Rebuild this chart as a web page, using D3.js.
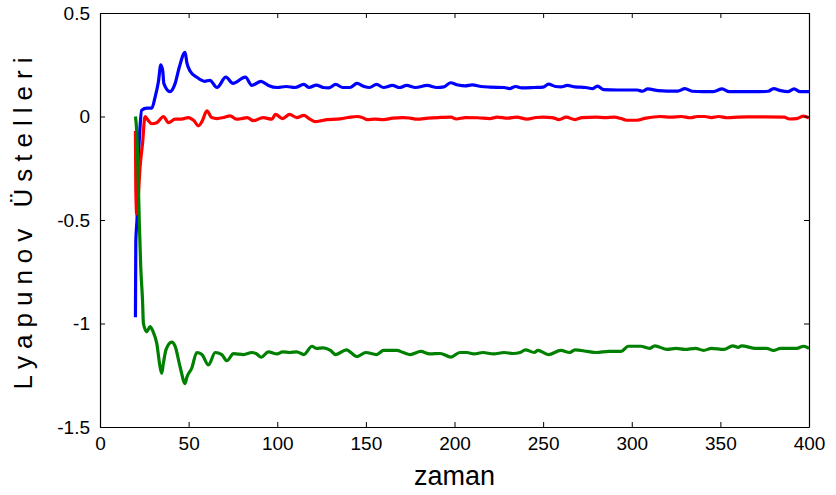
<!DOCTYPE html>
<html>
<head>
<meta charset="utf-8">
<script src="https://cdn.jsdelivr.net/npm/d3@7"></script>
<style>
  html, body { margin: 0; padding: 0; background: #fff; }
  svg { display: block; }
  text { font-family: "Liberation Sans", Arial, sans-serif; fill: #000; }
</style>
</head>
<body>
<svg id="chart" width="836" height="495"></svg>
<script>
// Lyapunov exponent estimates over time: [time, value]
const blueSeries = [
  [20,-0.97],[20.2,-0.61],[21,-0.47],[21.6,-0.23],[22.6,-0.05],[23.5,0.03],[26.4,0.04],[29.2,0.04],
  [31,0.09],[33,0.17],[34.3,0.25],[35.4,0.22],[36,0.16],[39.5,0.12],[42.4,0.16],[44.8,0.24],
  [48,0.31],[49,0.26],[50.8,0.22],[54.6,0.19],[59,0.17],[62,0.175],[66,0.14],[71,0.19],
  [75,0.16],[82,0.19],[85.7,0.15],[90.8,0.17],[95,0.15],[100,0.14],[105,0.145],[110,0.14],
  [115,0.155],[118,0.14],[122,0.152],[126,0.14],[129,0.138],[133,0.155],[137,0.14],[141,0.14],
  [145,0.16],[149,0.145],[152,0.14],[156,0.155],[160,0.14],[165,0.15],[169,0.14],[173,0.15],
  [178,0.14],[184.6,0.15],[190,0.14],[194,0.143],[197.7,0.163],[202,0.152],[206,0.148],[210,0.153],
  [215,0.145],[220,0.142],[228,0.14],[231,0.135],[234.5,0.145],[238,0.138],[245,0.14],[250,0.142],
  [253,0.156],[257,0.145],[260,0.143],[263.6,0.15],[268,0.143],[274,0.14],[278,0.135],[280.6,0.147],
  [284,0.13],[292,0.128],[303,0.128],[306,0.122],[309,0.133],[315,0.125],[320,0.123],[326,0.123],
  [330,0.135],[334,0.122],[340,0.12],[346,0.12],[351,0.133],[355,0.12],[362,0.12],[370,0.12],
  [377,0.122],[380,0.135],[384,0.125],[388,0.12],[391.6,0.133],[395,0.12],[400,0.12]
];

const redSeries = [
  [20,-0.07],[20.2,-0.34],[20.7,-0.47],[21.5,-0.4],[22.6,-0.245],[24,-0.13],[25.4,0],[27.3,-0.02],
  [29.2,-0.035],[32,-0.03],[35.8,0],[38.6,-0.03],[42.4,-0.013],[46,-0.013],[49.9,-0.005],[53,-0.02],
  [55.5,-0.045],[57.5,-0.025],[60.3,0.027],[63,-0.005],[66,-0.01],[69.7,-0.005],[73.4,0.003],[77,-0.013],
  [80,-0.01],[83,-0.005],[86.6,-0.02],[92,-0.005],[97,-0.013],[99,0.01],[103,-0.01],[107,0.01],
  [111,-0.005],[115,0.005],[118,-0.01],[121.5,-0.025],[125,-0.02],[128,-0.015],[134,-0.013],[140,-0.005],
  [145,0],[148,-0.005],[150.6,-0.015],[155,-0.013],[160,-0.015],[165,-0.008],[171,-0.005],[175,-0.008],
  [179,-0.013],[185,-0.008],[191,-0.005],[198,-0.003],[201,-0.012],[206,-0.005],[213,-0.006],[220,-0.01],
  [224,-0.003],[230,-0.008],[235,-0.003],[241,-0.013],[246,-0.005],[250,-0.003],[255,-0.005],[259,-0.015],
  [263,-0.003],[268,-0.015],[272,-0.005],[280,-0.003],[285,-0.005],[290,-0.003],[294,-0.01],[297,-0.018],
  [303,-0.018],[308,-0.008],[316,0],[322,-0.003],[328,0],[333,-0.006],[337,0],[341,0],
  [345,-0.005],[349,0],[354,-0.006],[360,-0.003],[365,-0.002],[375,-0.002],[386,-0.003],[389,-0.012],
  [393,-0.01],[397,0.002],[400,-0.008]
];

const greenSeries = [
  [20,0],[20.7,-0.07],[21.6,-0.31],[22.2,-0.52],[23,-0.73],[24,-0.89],[24.5,-1.0],[26.4,-1.04],
  [28.2,-1.015],[30,-1.04],[32,-1.095],[33.9,-1.21],[34.8,-1.24],[35.8,-1.19],[37.3,-1.125],[40.5,-1.09],
  [42.4,-1.11],[45.2,-1.21],[48,-1.29],[49,-1.26],[51.8,-1.215],[54.6,-1.14],[57.5,-1.15],[61.2,-1.2],
  [65,-1.14],[68.7,-1.15],[71.6,-1.18],[75.3,-1.146],[81,-1.15],[85.7,-1.14],[88,-1.145],[91,-1.163],
  [95,-1.137],[100,-1.147],[103,-1.137],[107,-1.14],[111,-1.137],[115,-1.15],[119.6,-1.11],[122,-1.12],
  [126,-1.118],[130,-1.13],[133,-1.15],[139,-1.127],[145,-1.16],[150,-1.14],[156,-1.15],[160,-1.13],
  [164,-1.13],[167.5,-1.13],[171,-1.14],[175,-1.15],[181,-1.135],[186,-1.147],[192,-1.145],[198,-1.162],
  [203,-1.14],[207,-1.14],[211,-1.147],[216,-1.14],[222,-1.147],[228,-1.14],[233,-1.145],[237,-1.14],
  [240,-1.127],[245,-1.14],[247,-1.13],[253,-1.15],[260,-1.13],[265,-1.14],[268,-1.127],[275,-1.135],
  [280,-1.14],[287,-1.135],[294,-1.135],[298,-1.11],[305,-1.11],[310,-1.12],[313,-1.108],[320,-1.125],
  [325,-1.12],[330,-1.125],[336,-1.12],[340.6,-1.13],[345,-1.12],[352,-1.125],[357,-1.108],[360,-1.115],
  [362,-1.108],[370,-1.12],[376,-1.12],[380,-1.13],[384,-1.12],[393,-1.12],[397,-1.11],[400,-1.12]
];

const xTicks = [0, 50, 100, 150, 200, 250, 300, 350, 400];
const yTicks = [-1.5, -1, -0.5, 0, 0.5];
const xLabel = "zaman";
const yLabel = "Lyapunov Üstelleri";

const series = [
  { data: blueSeries, color: "#0000ff" },
  { data: redSeries, color: "#ff0000" },
  { data: greenSeries, color: "#008000" }
];

const margin = { left: 100, right: 27, top: 13, bottom: 68 };
const width = 836, height = 495;
const svg = d3.select("#chart");

const x = d3.scaleLinear().domain([0, 400]).range([margin.left, width - margin.right]);
const y = d3.scaleLinear().domain([-1.5, 0.5]).range([height - margin.bottom, margin.top]);

const fmt = d => String(d);

// Traces
const line = d3.line().x(d => x(d[0])).y(d => y(d[1])).curve(d3.curveMonotoneX);
svg.append("g")
  .selectAll("path")
  .data(series)
  .join("path")
  .attr("d", s => line(s.data))
  .attr("fill", "none")
  .attr("stroke", s => s.color)
  .attr("stroke-width", 3.2)
  .attr("stroke-linejoin", "round");

// Axes box with inward ticks on all four sides
const tickLen = 5;
const axisStyle = g => {
  g.select(".domain").attr("stroke", "#000").attr("stroke-width", 1.2);
  g.selectAll(".tick line").attr("stroke", "#000").attr("stroke-width", 1);
  g.selectAll(".tick text").style("font-size", "19px").attr("fill", "#000")
    .style("font-family", "'Liberation Sans', Arial, sans-serif");
};

svg.append("g")
  .attr("transform", `translate(0,${y(-1.5)})`)
  .call(d3.axisBottom(x).tickValues(xTicks).tickFormat(fmt).tickSizeInner(-tickLen).tickSizeOuter(0).tickPadding(10))
  .call(axisStyle);

svg.append("g")
  .attr("transform", `translate(0,${y(0.5)})`)
  .call(d3.axisTop(x).tickValues(xTicks).tickFormat("").tickSizeInner(-tickLen).tickSizeOuter(0))
  .call(axisStyle);

svg.append("g")
  .attr("transform", `translate(${x(0)},0)`)
  .call(d3.axisLeft(y).tickValues(yTicks).tickFormat(fmt).tickSizeInner(-tickLen).tickSizeOuter(0).tickPadding(10))
  .call(axisStyle);

svg.append("g")
  .attr("transform", `translate(${x(400)},0)`)
  .call(d3.axisRight(y).tickValues(yTicks).tickFormat("").tickSizeInner(-tickLen).tickSizeOuter(0))
  .call(axisStyle);

// Axis titles
svg.append("text")
  .attr("x", (x(0) + x(400)) / 2)
  .attr("y", 485)
  .attr("text-anchor", "middle")
  .style("font-size", "27px")
  .text(xLabel);

svg.append("text")
  .attr("transform", `translate(32,${(y(-1.5) + y(0.5)) / 2}) rotate(-90)`)
  .attr("text-anchor", "middle")
  .style("font-size", "26px")
  .style("letter-spacing", "7px")
  .text(yLabel);
</script>
</body>
</html>
